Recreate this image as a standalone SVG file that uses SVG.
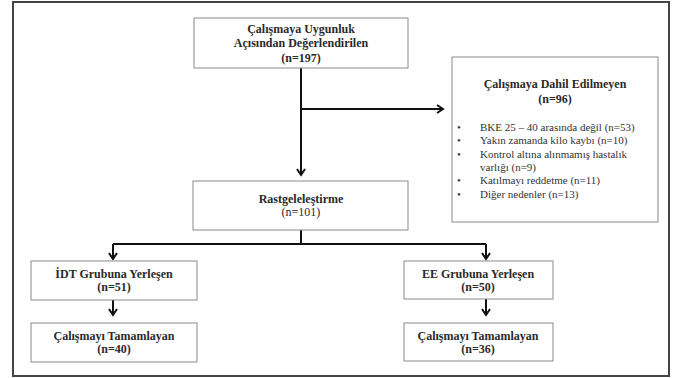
<svg xmlns="http://www.w3.org/2000/svg" width="676" height="378" viewBox="0 0 676 378">
<style>
.box{fill:#fff;stroke:#8a8a8a;stroke-width:1}
.t{font-family:'Liberation Serif','Times New Roman','DejaVu Serif',serif;font-size:12px;fill:#2a2a2a;text-anchor:middle}
.b{font-weight:bold}
.l{font-family:'Liberation Serif','Times New Roman','DejaVu Serif',serif;font-size:11px;fill:#333}
.c{fill:none;stroke:#111;stroke-width:2;marker-end:url(#ah)}
.n{fill:none;stroke:#111;stroke-width:2}
</style>
<defs>
<marker id="ah" markerWidth="10" markerHeight="10" refX="7" refY="5" orient="auto" markerUnits="userSpaceOnUse">
<path d="M1,1 L7,5 L1,9" fill="none" stroke="#111" stroke-width="2"/>
</marker>
</defs>
<rect x="0" y="0" width="676" height="378" fill="#fff"/>
<rect x="13" y="2" width="656" height="374" fill="none" stroke="#444" stroke-width="2"/>
<g id="connectors">
<path class="n" d="M301,68 V175"/>
<path class="c" d="M301,109 H443"/>
<path class="c" d="M301,150 V175"/>
<path class="n" d="M301,230 V244"/>
<path class="n" d="M113,244 H486"/>
<path class="c" d="M113,244 V259"/>
<path class="c" d="M486,244 V259"/>
<path class="c" d="M113,300 V315"/>
<path class="c" d="M486,299 V315"/>
</g>
<g id="n_eligible">
<rect class="box" x="194" y="18" width="214" height="50"/>
<text class="t b" x="301" y="33">Çalışmaya Uygunluk</text>
<text class="t b" x="301" y="47">Açısından Değerlendirilen</text>
<text class="t b" x="301" y="62">(n=197)</text>
</g>
<g id="n_excluded">
<rect class="box" x="452" y="57" width="206" height="165"/>
<text class="t b" x="555" y="88">Çalışmaya Dahil Edilmeyen</text>
<text class="t b" x="555" y="103">(n=96)</text>
<text class="l" x="457" y="131">•</text>
<text class="l" x="480" y="131">BKE 25 – 40 arasında değil (n=53)</text>
<text class="l" x="457" y="144">•</text>
<text class="l" x="480" y="144">Yakın zamanda kilo kaybı (n=10)</text>
<text class="l" x="457" y="158">•</text>
<text class="l" x="480" y="158">Kontrol altına alınmamış hastalık</text>
<text class="l" x="480" y="171">varlığı (n=9)</text>
<text class="l" x="457" y="184">•</text>
<text class="l" x="480" y="184">Katılmayı reddetme (n=11)</text>
<text class="l" x="457" y="198">•</text>
<text class="l" x="480" y="198">Diğer nedenler (n=13)</text>
</g>
<g id="n_random">
<rect class="box" x="193" y="181" width="215" height="49"/>
<text class="t b" x="301" y="203">Rastgeleleştirme</text>
<text class="t" x="301" y="216">(n=101)</text>
</g>
<g id="n_idt">
<rect class="box" x="31" y="261" width="166" height="39"/>
<text class="t b" x="114" y="278">İDT Grubuna Yerleşen</text>
<text class="t b" x="114" y="291">(n=51)</text>
</g>
<g id="n_ee">
<rect class="box" x="404" y="261" width="149" height="38"/>
<text class="t b" x="478" y="278">EE Grubuna Yerleşen</text>
<text class="t b" x="478" y="291">(n=50)</text>
</g>
<g id="n_idt_done">
<rect class="box" x="31" y="323" width="166" height="39"/>
<text class="t b" x="114" y="340">Çalışmayı Tamamlayan</text>
<text class="t b" x="114" y="353">(n=40)</text>
</g>
<g id="n_ee_done">
<rect class="box" x="404" y="323" width="149" height="38"/>
<text class="t b" x="478" y="340">Çalışmayı Tamamlayan</text>
<text class="t b" x="478" y="353">(n=36)</text>
</g>
</svg>
